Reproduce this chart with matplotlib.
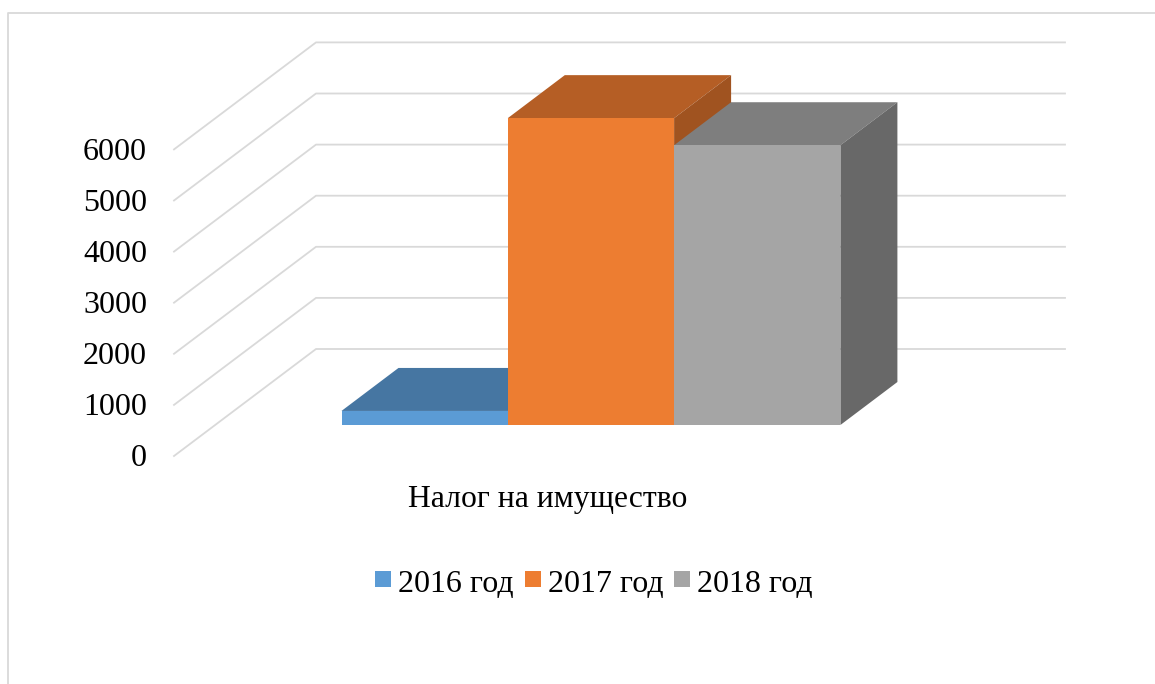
import matplotlib
matplotlib.use("Agg")
from matplotlib import pyplot as plt
from matplotlib.patches import Polygon, Rectangle

series = ["2016 год", "2017 год", "2018 год"]
values = [275, 6005, 5475]
front_colors = ["#5B9BD5", "#ED7D31", "#A5A5A5"]
top_colors = ["#4676A2", "#B55E25", "#7E7E7E"]
side_colors = ["#3E6A92", "#A05320", "#686868"]
ticks = [0, 1000, 2000, 3000, 4000, 5000, 6000]
category = "Налог на имущество"

# pixel geometry of the fake 3d box
PX_PER_UNIT = 0.0511
WALL_DX, WALL_DY = 142, -107
BAR_DX, BAR_DY = 57, -43
BASE_Y = 425
BAR_LEFT = 341.5
BAR_W = 166.3


def val_y(v, base=456):
    return base - v * PX_PER_UNIT


fig = plt.figure(figsize=(11.55, 6.84), dpi=100)
ax = fig.add_axes([0, 0, 1, 1])
ax.set_xlim(0, 1155)
ax.set_ylim(684, 0)
ax.axis("off")
plt.rcParams["font.family"] = ["Liberation Serif", "DejaVu Serif"]

# outer frame, only top and left are visible
ax.plot([8, 8, 1155], [684, 13, 13], color="#D9D9D9", lw=1.3, zorder=1)

# walls and gridlines
for t in ticks:
    y = val_y(t)
    ax.plot([174, 174 + WALL_DX, 1065], [y, y + WALL_DY, y + WALL_DY],
            color="#D9D9D9", lw=1.3, zorder=1)
    ax.text(147, y + 3, str(t), ha="right", va="center",
            fontsize=23, color="black")

# bars, left to right so that each one hides the side of the previous
for i, v in enumerate(values):
    x0 = BAR_LEFT + i * BAR_W
    x1 = x0 + BAR_W
    top = BASE_Y - v * PX_PER_UNIT
    ax.add_patch(Polygon([(x0, top), (x0 + BAR_DX, top + BAR_DY),
                          (x1 + BAR_DX, top + BAR_DY), (x1, top)],
                         closed=True, fc=top_colors[i], ec="none", zorder=2 + i))
    ax.add_patch(Polygon([(x1, top), (x1 + BAR_DX, top + BAR_DY),
                          (x1 + BAR_DX, BASE_Y + BAR_DY), (x1, BASE_Y)],
                         closed=True, fc=side_colors[i], ec="none", zorder=2 + i))
    ax.add_patch(Rectangle((x0, top), BAR_W, BASE_Y - top,
                           fc=front_colors[i], ec="none", zorder=2 + i))

ax.text(548, 499, category, ha="center", va="center", fontsize=22.8, color="black")

# legend
legend_x = [375, 525, 674]
for name, color, lx in zip(series, front_colors, legend_x):
    ax.add_patch(Rectangle((lx, 571), 16, 16, fc=color, ec="none"))
    ax.text(lx + 23, 584, name, ha="left", va="center", fontsize=23, color="black")

fig.savefig("out.png", dpi=100)
